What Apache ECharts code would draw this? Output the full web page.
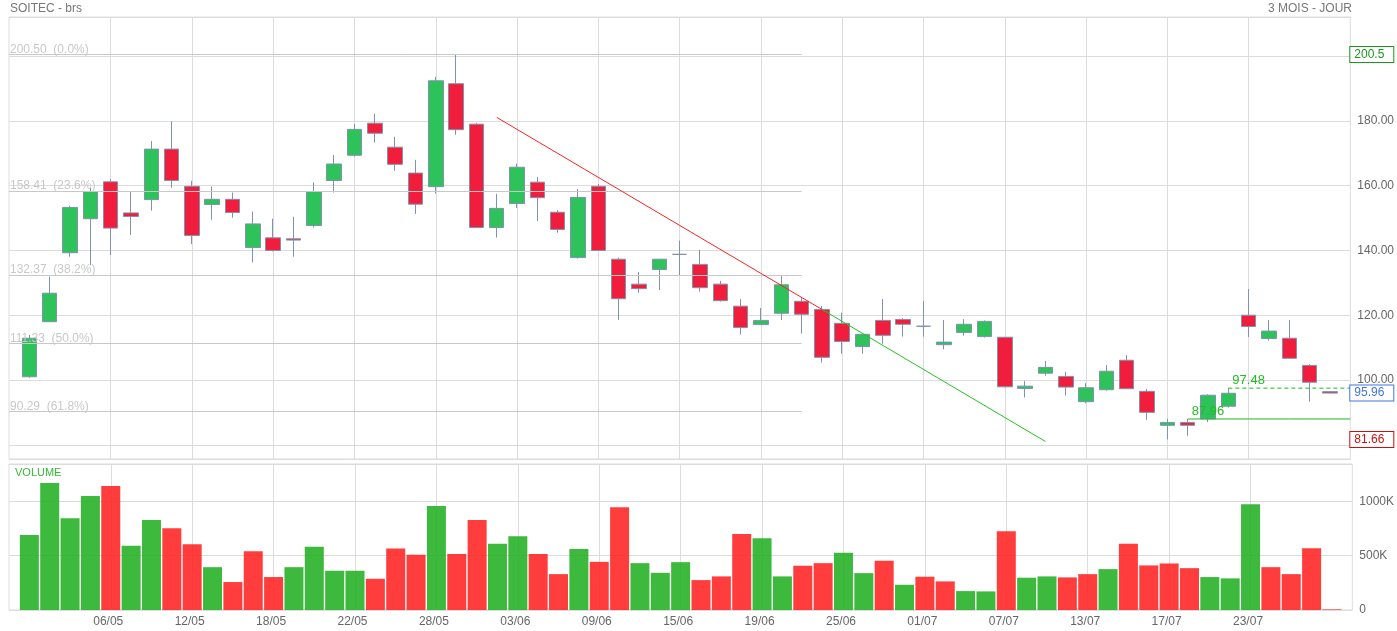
<!DOCTYPE html>
<html>
<head>
<meta charset="utf-8">
<title>SOITEC - brs</title>
<script src="https://cdn.jsdelivr.net/npm/echarts/dist/echarts.min.js"></script>
<style>
html, body { margin: 0; padding: 0; background: #fff; }
#chart { width: 1397px; height: 631px; }
</style>
</head>
<body>
<div id="chart"></div>
<script>
// jours de cotation
var dates = ['29/04', '30/04', '04/05', '05/05', '06/05', '07/05', '08/05', '11/05', '12/05', '13/05',
	'14/05', '15/05', '18/05', '19/05', '20/05', '21/05', '22/05', '25/05', '26/05', '27/05',
	'28/05', '29/05', '01/06', '02/06', '03/06', '04/06', '05/06', '08/06', '09/06', '10/06',
	'11/06', '12/06', '15/06', '16/06', '17/06', '18/06', '19/06', '22/06', '23/06', '24/06',
	'25/06', '26/06', '29/06', '30/06', '01/07', '02/07', '03/07', '06/07', '07/07', '08/07',
	'09/07', '10/07', '13/07', '14/07', '15/07', '16/07', '17/07', '20/07', '21/07', '22/07',
	'23/07', '24/07', '27/07', '28/07', '29/07'];
// dates affichees sur l'axe
var dateLabels = ['06/05', '12/05', '18/05', '22/05', '28/05', '03/06', '09/06', '15/06', '19/06',
	'25/06', '01/07', '07/07', '13/07', '17/07', '23/07'];
// [ouverture, cloture, plus bas, plus haut]
var ohlc = [
	[101.0, 112.9, 100.7, 113.9], [118.0, 126.8, 118.0, 131.9], [139.3, 153.3, 138.1, 153.8],
	[149.8, 158.2, 135.5, 159.4], [161.2, 146.9, 138.6, 162.0], [151.6, 150.5, 144.8, 158.2],
	[155.7, 171.3, 152.3, 173.8], [171.3, 161.6, 159.4, 179.9], [159.8, 144.6, 142.0, 161.5],
	[154.2, 155.8, 149.5, 159.8], [155.8, 151.7, 150.1, 157.9], [140.9, 148.2, 136.3, 152.0],
	[143.9, 140.0, 139.7, 149.8], [143.6, 143.2, 138.1, 150.4], [147.7, 158.2, 147.1, 161.0],
	[161.6, 166.7, 157.9, 169.5], [169.4, 177.4, 169.0, 179.1], [179.3, 176.2, 173.3, 182.2],
	[171.9, 166.6, 164.6, 175.1], [163.9, 154.3, 151.3, 168.0], [159.7, 192.4, 157.6, 193.6],
	[191.5, 177.3, 175.7, 200.5], [179.0, 147.1, 147.1, 179.4], [147.1, 153.0, 144.0, 157.5],
	[154.5, 165.7, 153.1, 166.8], [161.1, 156.3, 149.1, 162.7], [151.8, 146.5, 145.5, 152.5],
	[137.8, 156.4, 137.5, 159.0], [159.8, 140.0, 140.0, 160.5], [137.3, 125.1, 118.5, 137.8],
	[129.6, 128.2, 126.9, 133.4], [134.1, 137.3, 127.8, 137.3], [138.8, 138.8, 132.4, 143.0],
	[135.7, 128.5, 127.3, 140.2], [129.6, 124.5, 124.2, 130.6], [122.8, 116.2, 114.0, 125.0],
	[117.1, 118.4, 117.1, 122.2], [120.6, 129.4, 118.5, 132.2], [124.3, 120.3, 114.3, 125.7],
	[121.8, 107.0, 105.4, 122.9], [117.5, 111.9, 108.1, 120.8], [110.3, 114.1, 108.1, 114.1],
	[118.4, 113.8, 111.2, 125.0], [118.7, 117.2, 113.4, 119.1], [116.6, 116.6, 113.4, 124.4],
	[110.9, 111.7, 109.5, 118.5], [114.7, 117.2, 113.7, 118.8], [113.4, 118.1, 113.1, 118.4],
	[113.2, 97.9, 97.7, 113.2], [97.4, 98.1, 94.6, 99.7], [102.1, 103.9, 101.3, 105.9],
	[101.1, 97.8, 95.2, 102.5], [93.3, 97.6, 92.8, 99.0], [97.0, 102.7, 96.7, 104.6],
	[106.1, 97.3, 97.3, 107.7], [96.5, 90.0, 87.7, 97.2], [86.0, 86.9, 81.66, 88.0],
	[86.9, 86.0, 82.8, 87.96], [88.0, 95.3, 87.0, 95.6], [91.9, 95.9, 91.5, 97.48],
	[120.0, 116.5, 113.3, 128.1], [112.8, 115.1, 112.2, 118.5], [112.9, 106.7, 106.7, 118.5],
	[104.5, 99.3, 93.3, 104.9], [96.4, 95.96, 95.9, 96.6]
];
// volumes en milliers
var volumes = [691, 1168, 844, 1049, 1141, 590, 829, 752, 605, 394,
	257, 541, 303, 394, 581, 361, 361, 287, 566, 508,
	957, 514, 829, 609, 679, 514, 330, 560, 443, 945,
	431, 342, 440, 275, 309, 700, 660, 309, 407, 431,
	526, 339, 453, 232, 306, 263, 174, 171, 725, 297,
	309, 300, 330, 376, 609, 410, 428, 385, 303, 291,
	972, 394, 330, 569, 6];
// niveaux de Fibonacci
var fibLevels = [200.50, 158.41, 132.37, 111.33, 90.29];
var fibPercents = ['0.0%', '23.6%', '38.2%', '50.0%', '61.8%'];
var fibEnd = 38;
// tendances [jour, cours]
var trendDown = [[23, 181.1], [39, 121.8]];
var trendBreak = [[39, 121.8], [50, 81.0]];
// support / resistance [jour, cours]
var supportLevel = [57, 87.96];
var resistLevel = [59, 97.48];
// reperes a droite
var highMark = 200.5;
var lastMark = 95.96;
var lowMark = 81.66;
var priceTicks = [100, 120, 140, 160, 180];
var volumeTicks = [0, 500, 1000];

(function() {
	var myChart = echarts.init(document.getElementById('chart'));

	// une case vide de chaque cote
	var cats = [''].concat(dates).concat(['']);
	var last = cats.length - 1;
	var empty = '-';
	var candles = [[empty, empty, empty, empty]];
	var vols = [empty];
	for (var i = 0; i < ohlc.length; i++) {
		candles.push(ohlc[i]);
		var prev = i > 0 ? ohlc[i - 1][1] : ohlc[i][0];
		var up = ohlc[i][1] >= prev;
		vols.push({
			value : volumes[i],
			itemStyle : {
				color : up ? 'rgba(34,177,34,0.88)' : 'rgba(255,34,34,0.88)'
			}
		});
	}
	candles.push([empty, empty, empty, empty]);
	vols.push(empty);

	// niveau horizontal a partir d'un jour jusqu'au bord droit
	function levelData(level) {
		var out = [];
		for (var j = 0; j < cats.length; j++) {
			out.push(j >= level[0] + 1 ? level[1] : empty);
		}
		return out;
	}

	var showDate = function(idx, val) {
		return dateLabels.indexOf(val) >= 0;
	};

	// lignes de Fibonacci (sous les bougies)
	var fibMarks = [];
	for (var f = 0; f < fibLevels.length; f++) {
		fibMarks.push([ {
			coord : [ 0, fibLevels[f] ],
			lineStyle : {
				color : '#c8c8c8',
				width : 1,
				type : 'solid'
			},
			label : {
				show : true,
				position : 'insideStartTop',
				distance : [ 1, -1 ],
				formatter : fibLevels[f].toFixed(2) + '  (' + fibPercents[f] + ')',
				color : '#c8c8c8',
				fontSize : 12
			}
		}, {
			coord : [ fibEnd + 1, fibLevels[f] ]
		} ]);
	}

	// traces par-dessus les bougies
	var marks = [];
	marks.push([ {
		coord : [ trendDown[0][0] + 1, trendDown[0][1] ],
		lineStyle : { color : '#ff2020', width : 1, type : 'solid' }
	}, {
		coord : [ trendDown[1][0] + 1, trendDown[1][1] ]
	} ]);
	marks.push([ {
		coord : [ trendBreak[0][0] + 1, trendBreak[0][1] ],
		lineStyle : { color : '#22c422', width : 1, type : 'solid' }
	}, {
		coord : [ trendBreak[1][0] + 1, trendBreak[1][1] ]
	} ]);
	// etiquettes support / resistance
	var levels = [ supportLevel, resistLevel ];
	for (var s = 0; s < levels.length; s++) {
		marks.push([ {
			coord : [ levels[s][0] + 1, levels[s][1] ],
			lineStyle : { color : 'rgba(0,0,0,0)', width : 0 },
			label : {
				show : true,
				position : 'insideStartTop',
				distance : [ 4, 1 ],
				formatter : levels[s][1].toFixed(2),
				color : '#22bb22',
				fontSize : 13
			}
		}, {
			coord : [ last, levels[s][1] ]
		} ]);
	}
	// reperes a droite (plus haut, dernier, plus bas)
	var boxes = [ [ highMark, '#1a961a' ], [ lastMark, '#3f74e0' ], [ lowMark, '#cc1010' ] ];
	for (var b = 0; b < boxes.length; b++) {
		marks.push([ {
			coord : [ last, boxes[b][0] ],
			lineStyle : { color : 'rgba(0,0,0,0)', width : 0 },
			label : {
				show : true,
				position : 'end',
				distance : 2,
				formatter : String(boxes[b][0]),
				color : boxes[b][1],
				borderColor : boxes[b][1],
				borderWidth : 1,
				backgroundColor : '#fff',
				padding : [ 2, 4, 0, 4 ],
				width : 35,
				lineHeight : 13,
				fontSize : 12,
				align : 'left'
			}
		}, {
			coord : [ last, boxes[b][0] ]
		} ]);
	}

	var option = {
		animation : false,
		textStyle : {
			fontFamily : 'Liberation Sans, Arial, sans-serif'
		},
		title : [ {
			text : 'SOITEC - brs',
			left : 10,
			top : 3,
			padding : 0,
			textStyle : { fontSize : 12, fontWeight : 'normal', color : '#777' }
		}, {
			text : '3 MOIS - JOUR',
			right : 45,
			top : 3,
			padding : 0,
			textStyle : { fontSize : 12, fontWeight : 'normal', color : '#777' }
		}, {
			text : 'VOLUME',
			left : 15,
			top : 467,
			padding : 0,
			textStyle : { fontSize : 11, fontWeight : 'normal', color : '#33bb33' }
		} ],
		grid : [ {
			left : 9,
			right : 44,
			top : 17,
			height : 442,
			show : true,
			borderColor : '#dcdcdc',
			borderWidth : 1
		}, {
			left : 9,
			right : 44,
			top : 464,
			height : 146,
			show : true,
			borderColor : '#dcdcdc',
			borderWidth : 1
		} ],
		xAxis : [ {
			type : 'category',
			gridIndex : 0,
			data : cats,
			boundaryGap : false,
			axisLine : { show : false },
			axisTick : { show : false },
			axisLabel : { show : false },
			splitLine : {
				show : true,
				interval : showDate,
				lineStyle : { color : '#dcdcdc' }
			}
		}, {
			type : 'category',
			gridIndex : 1,
			data : cats,
			boundaryGap : false,
			axisLine : { show : false },
			axisTick : { show : false },
			axisLabel : {
				interval : showDate,
				color : '#666',
				fontSize : 12,
				margin : 6,
				padding : [ 0, 5, 0, 0 ]
			},
			splitLine : {
				show : true,
				interval : showDate,
				lineStyle : { color : '#dcdcdc' }
			}
		} ],
		yAxis : [ {
			type : 'value',
			gridIndex : 0,
			position : 'right',
			min : 75.6,
			max : 212.1,
			splitNumber : 7,
			axisLine : { show : false },
			axisTick : { show : false },
			axisLabel : {
				color : '#666',
				fontSize : 12,
				margin : 7,
				showMinLabel : false,
				showMaxLabel : false,
				formatter : function(v) {
					for (var k = 0; k < priceTicks.length; k++) {
						if (Math.abs(priceTicks[k] - v) < 0.001) {
							return priceTicks[k].toFixed(2);
						}
					}
					return '';
				}
			},
			splitLine : { lineStyle : { color : '#dcdcdc' } }
		}, {
			type : 'value',
			gridIndex : 1,
			position : 'right',
			min : 0,
			max : 1343,
			interval : 500,
			axisLine : { show : false },
			axisTick : { show : false },
			axisLabel : {
				color : '#666',
				fontSize : 12,
				margin : 7,
				formatter : function(v) {
					if (volumeTicks.indexOf(v) < 0) {
						return '';
					}
					return v === 0 ? '0' : v + 'K';
				}
			},
			splitLine : { lineStyle : { color : '#dcdcdc' } }
		} ],
		series : [ {
			name : 'SOITEC',
			type : 'candlestick',
			xAxisIndex : 0,
			yAxisIndex : 0,
			data : candles,
			barWidth : 15,
			z : 3,
			itemStyle : {
				color : '#2dc35a',
				color0 : '#f01d3c',
				borderColor : '#7f93ad',
				borderColor0 : '#7f93ad',
				borderColorDoji : '#7f93ad',
				borderWidth : 1
			},
			markLine : {
				silent : true,
				symbol : [ 'none', 'none' ],
				animation : false,
				data : fibMarks
			}
		}, {
			name : 'Support',
			type : 'line',
			xAxisIndex : 0,
			yAxisIndex : 0,
			data : levelData(supportLevel),
			symbol : 'none',
			silent : true,
			z : 4,
			lineStyle : { color : '#1cb81c', width : 1, type : 'solid' }
		}, {
			name : 'Resistance',
			type : 'line',
			xAxisIndex : 0,
			yAxisIndex : 0,
			data : levelData(resistLevel),
			symbol : 'none',
			silent : true,
			z : 4,
			lineStyle : { color : '#1cb81c', width : 1, type : [ 4, 3 ] }
		}, {
			name : 'Traces',
			type : 'line',
			xAxisIndex : 0,
			yAxisIndex : 0,
			data : [],
			symbol : 'none',
			clip : false,
			z : 5,
			markLine : {
				silent : true,
				symbol : [ 'none', 'none' ],
				animation : false,
				label : { show : false },
				data : marks
			}
		}, {
			name : 'Volume',
			type : 'bar',
			xAxisIndex : 1,
			yAxisIndex : 1,
			data : vols,
			barWidth : 19
		} ]
	};
	myChart.setOption(option);
})();
</script>
</body>
</html>
